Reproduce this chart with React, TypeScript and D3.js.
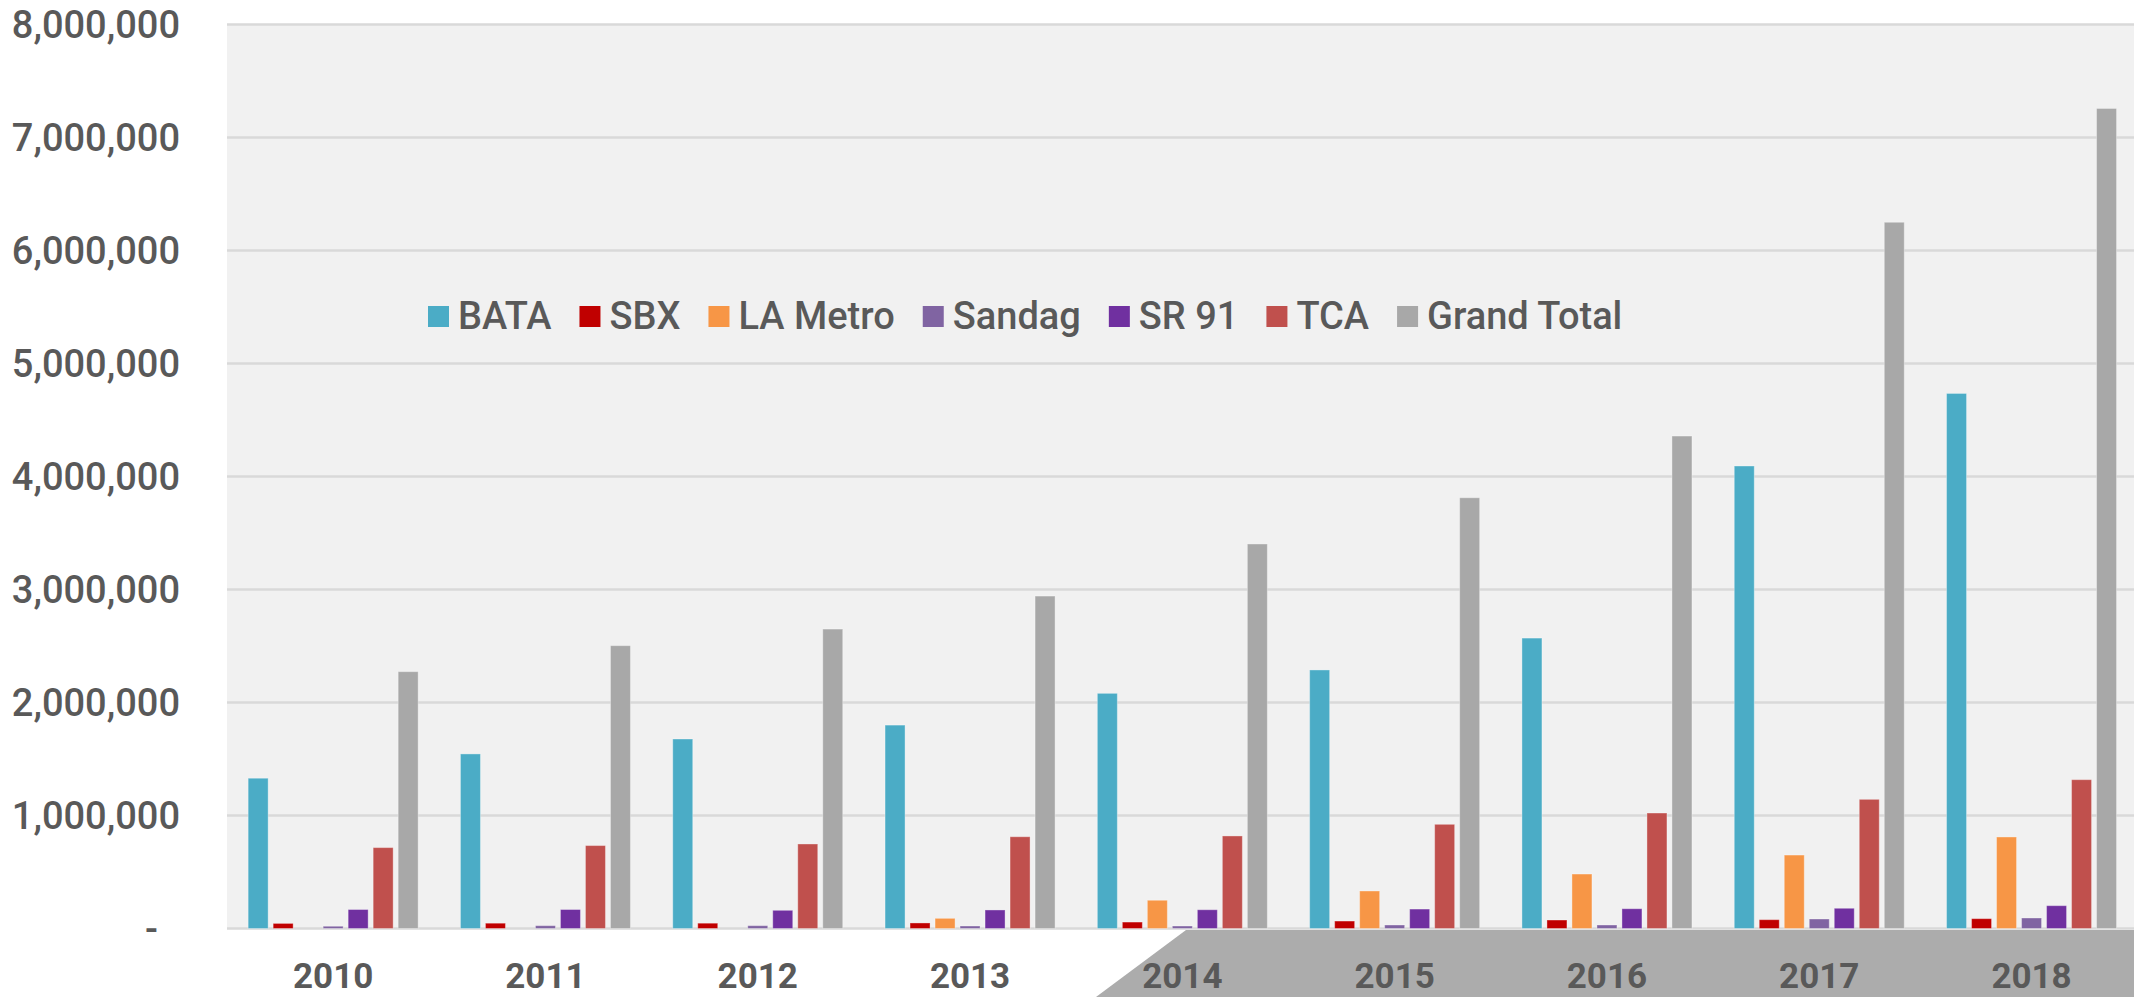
import React, { useEffect, useRef } from "react";
import * as d3 from "d3";

const years = ["2010", "2011", "2012", "2013", "2014", "2015", "2016", "2017", "2018"];
const seriesNames = ["BATA", "SBX", "LA Metro", "Sandag", "SR 91", "TCA", "Grand Total"];

const bata = [1330000, 1545000, 1677000, 1800000, 2081000, 2288000, 2570000, 4093000, 4735000];
const sbx = [45000, 47000, 47000, 49000, 57000, 66000, 75000, 78000, 87000];
const laMetro = [0, 0, 0, 90000, 250000, 332000, 482000, 650000, 810000];
const sandag = [20000, 25000, 25000, 22000, 22000, 31000, 31000, 84000, 93000];
const sr91 = [168000, 168000, 161000, 164000, 166000, 172000, 175000, 179000, 202000];
const tca = [716000, 734000, 748000, 812000, 819000, 922000, 1022000, 1143000, 1317000];
const grandTotal = [2273000, 2503000, 2650000, 2942000, 3403000, 3812000, 4358000, 6250000, 7257000];

const seriesValues = [bata, sbx, laMetro, sandag, sr91, tca, grandTotal];
const seriesColors = ["#4bacc6", "#c00000", "#f79646", "#8064a2", "#7030a0", "#c0504d", "#a8a8a8"];

const yTicks = [0, 1000000, 2000000, 3000000, 4000000, 5000000, 6000000, 7000000, 8000000];

export default function App() {
  const ref = useRef<SVGSVGElement>(null);

  useEffect(() => {
    const svg = d3.select(ref.current);
    svg.selectAll("*").remove();
    const W = 2134;
    const H = 997;
    const left = 227;
    const right = 2137.7;
    const top = 24.5;
    const bottom = 928.5;
    const textColor = "#595959";
    const font = "Roboto, 'Noto Sans', sans-serif";

    const x0 = d3
      .scaleBand<string>()
      .domain(years)
      .range([left, right])
      .paddingInner(0.1992)
      .paddingOuter(0.0996);
    const x1 = d3
      .scaleBand<string>()
      .domain(seriesNames)
      .range([0, x0.bandwidth()])
      .paddingInner(0.2)
      .paddingOuter(0);
    const y = d3.scaleLinear().domain([0, 8000000]).range([bottom, top]);

    svg.append("rect").attr("width", W).attr("height", H).attr("fill", "#ffffff");

    svg
      .append("rect")
      .attr("x", left)
      .attr("y", top)
      .attr("width", W - left)
      .attr("height", bottom - top)
      .attr("fill", "#f1f1f1");

    // gridlines
    svg
      .append("g")
      .selectAll("line")
      .data(yTicks)
      .join("line")
      .attr("x1", left)
      .attr("x2", W)
      .attr("y1", (d) => y(d))
      .attr("y2", (d) => y(d))
      .attr("stroke", "#d9d9d9")
      .attr("stroke-width", 2.5);

    // bars
    const groups = svg
      .append("g")
      .selectAll("g")
      .data(years)
      .join("g")
      .attr("transform", (d) => `translate(${x0(d)},0)`);

    groups
      .selectAll("rect")
      .data((_yr, i) => seriesNames.map((s, j) => ({ s, j, v: seriesValues[j][i] })))
      .join("rect")
      .filter((d) => d.v > 0)
      .attr("x", (d) => x1(d.s) as number)
      .attr("y", (d) => y(d.v))
      .attr("width", x1.bandwidth())
      .attr("height", (d) => y(0) - y(d.v))
      .attr("fill", (d) => seriesColors[d.j])
      .attr("stroke", "rgba(255,255,255,0.35)")
      .attr("stroke-width", 1);

    // decorative gray band under the right part of the axis
    svg
      .append("path")
      .attr("d", `M1186,930 L${W},930 L${W},${H} L1096,${H} Z`)
      .attr("fill", "#acacac");

    // x labels
    svg
      .append("g")
      .selectAll("text")
      .data(years)
      .join("text")
      .attr("x", (d) => (x0(d) as number) + x0.bandwidth() / 2)
      .attr("y", 988)
      .attr("text-anchor", "middle")
      .attr("font-family", font)
      .attr("font-weight", "bold")
      .attr("font-size", 35)
      .attr("fill", textColor)
      .text((d) => d);

    // y labels
    const fmt = d3.format(",");
    svg
      .append("g")
      .selectAll("text")
      .data(yTicks)
      .join("text")
      .attr("x", (d) => (d === 0 ? 158 : 180))
      .attr("y", (d) => y(d))
      .attr("dy", "0.36em")
      .attr("text-anchor", "end")
      .attr("font-family", font)
      .attr("font-weight", 500)
      .attr("font-size", 38)
      .attr("fill", textColor)
      .text((d) => (d === 0 ? "-" : fmt(d)));

    // legend
    const legend = svg.append("g");
    let cx = 428;
    const sq = 21;
    const sqTop = 306;
    seriesNames.forEach((name, j) => {
      legend
        .append("rect")
        .attr("x", cx)
        .attr("y", sqTop)
        .attr("width", sq)
        .attr("height", sq)
        .attr("fill", seriesColors[j]);
      const t = legend
        .append("text")
        .attr("x", cx + sq + 9)
        .attr("y", 329)
        .attr("font-family", font)
        .attr("font-weight", 500)
        .attr("font-size", 38)
        .attr("fill", textColor)
        .text(name);
      const w = (t.node() as SVGTextElement).getComputedTextLength();
      cx = cx + sq + 9 + w + 28;
    });
  }, []);

  return (
    <svg
      ref={ref}
      width={2134}
      height={997}
      style={{ position: "absolute", left: 0, top: 0 }}
    />
  );
}
